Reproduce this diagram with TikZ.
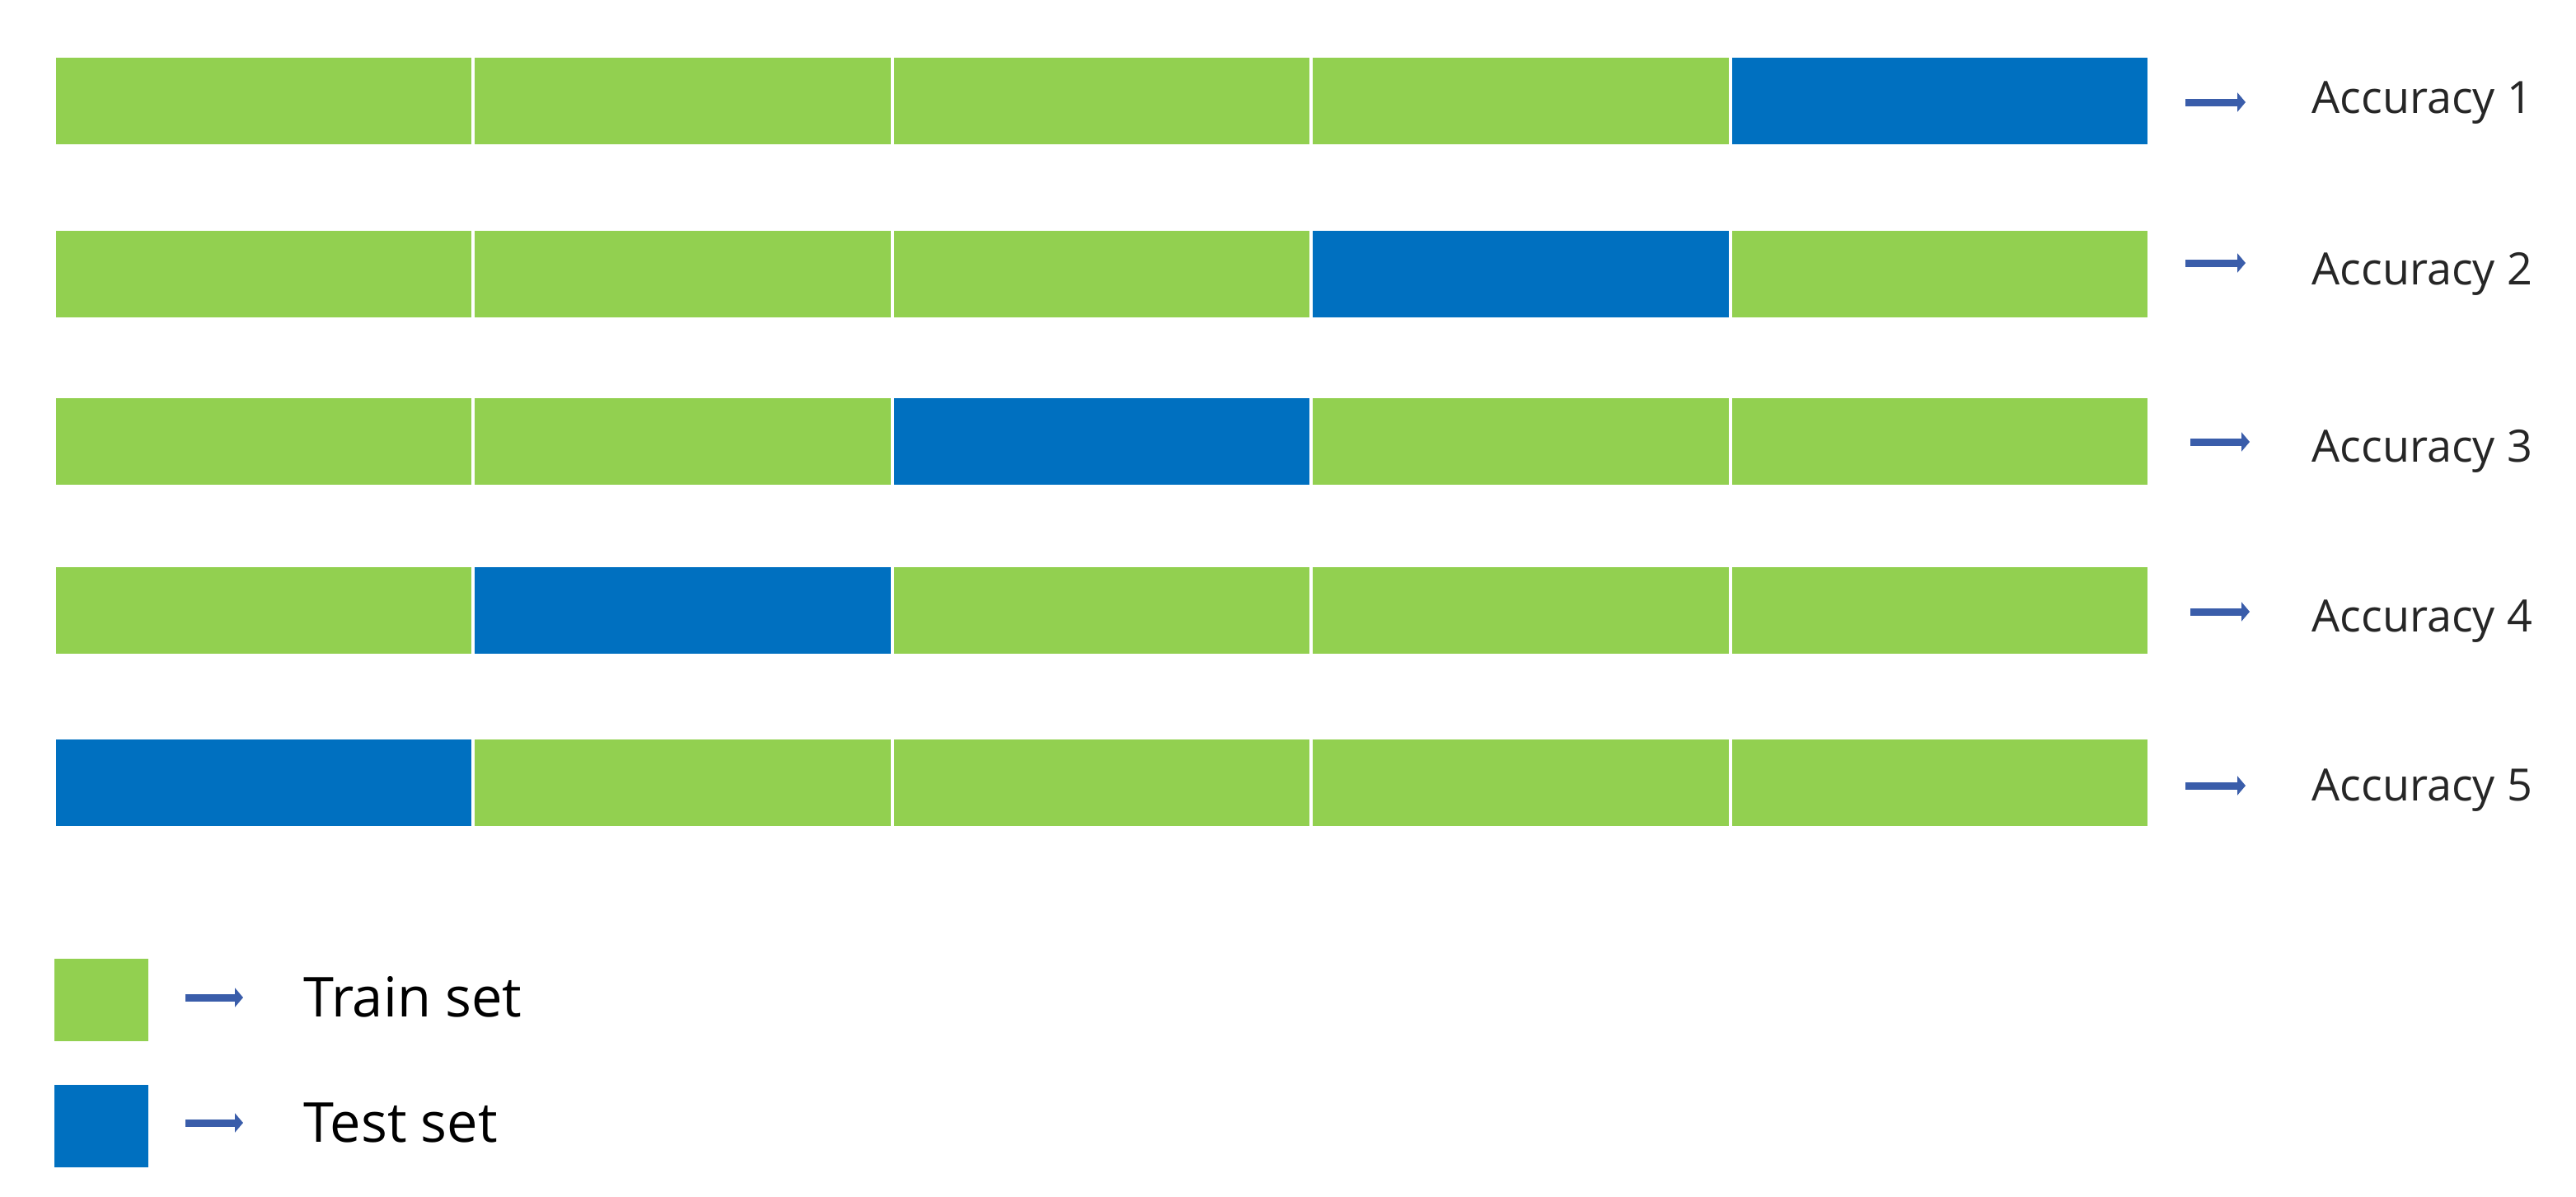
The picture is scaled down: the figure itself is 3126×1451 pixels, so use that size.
\documentclass[tikz,border=0pt]{standalone}
\usepackage{fontspec}
\setmainfont{Open Sans}
\usetikzlibrary{arrows.meta}
\definecolor{trainc}{HTML}{92D050}
\definecolor{testc}{HTML}{0070C0}
\definecolor{arrc}{HTML}{3A5DAA}
\definecolor{txtc}{HTML}{262626}
\begin{document}
\begin{tikzpicture}[x=0.5pt,y=-0.5pt,
  seg/.style={rectangle, inner sep=0pt, minimum width=252.2pt, minimum height=52.5pt},
  train/.style={seg, fill=trainc},
  test/.style={seg, fill=testc},
  arr/.style={draw=arrc, line width=4.5pt, -{Triangle[length=5pt,width=11.5pt]}},
  acc/.style={anchor=base west, inner sep=0pt, text=txtc, font=\fontsize{27}{32}\selectfont},
  leg/.style={anchor=base west, inner sep=0pt, text=black, font=\fontsize{33.4}{40}\selectfont},
  legbox/.style={rectangle, inner sep=0pt, minimum width=57pt, minimum height=50pt}]
\useasboundingbox (0,0) rectangle (3126,1451);
\foreach \r/\yy/\tc in {1/122.5/5, 2/332.5/4, 3/535.5/3, 4/740.5/2, 5/949.5/1} {
  \foreach \c in {1,...,5} {
    \pgfmathsetmacro\cx{66+508.4*(\c-0.5)}
    \ifnum\c=\tc
      \node[test] (s\r\c) at (\cx,\yy) {};
    \else
      \node[train] (s\r\c) at (\cx,\yy) {};
    \fi
  }
}
% accuracy labels
\node[acc] (acc1) at (2805,137) {Accuracy 1};
\node[acc] (acc2) at (2805,345) {Accuracy 2};
\node[acc] (acc3) at (2805,560) {Accuracy 3};
\node[acc] (acc4) at (2805,766) {Accuracy 4};
\node[acc] (acc5) at (2805,971) {Accuracy 5};
% arrows
\coordinate (a1s) at (2652,124); \coordinate (a1e) at (2725,124);
\coordinate (a2s) at (2652,319); \coordinate (a2e) at (2725,319);
\coordinate (a3s) at (2658,536); \coordinate (a3e) at (2730,536);
\coordinate (a4s) at (2658,742); \coordinate (a4e) at (2730,742);
\coordinate (a5s) at (2652,953); \coordinate (a5e) at (2725,953);
\foreach \i in {1,...,5} { \draw[arr] (a\i s) -- (a\i e); }
% legend
\node[legbox, fill=trainc] (lgtrain) at (123,1212.5) {};
\node[legbox, fill=testc] (lgtest) at (123,1366) {};
\coordinate (l1s) at (225,1210); \coordinate (l1e) at (295,1210);
\coordinate (l2s) at (225,1362); \coordinate (l2e) at (295,1362);
\draw[arr] (l1s) -- (l1e);
\draw[arr] (l2s) -- (l2e);
\node[leg] (ltrain) at (368,1233) {Train set};
\node[leg] (ltest) at (368,1385) {Test set};
\end{tikzpicture}
\end{document}
